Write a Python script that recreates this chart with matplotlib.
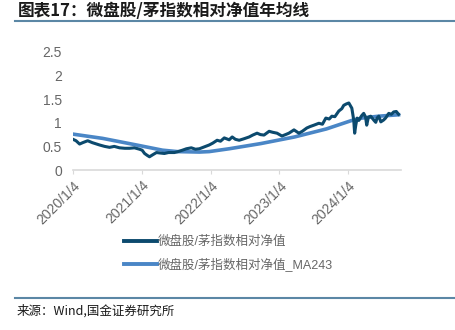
import pandas as pd
import matplotlib
matplotlib.use('Agg')
import matplotlib.pyplot as plt
from matplotlib.lines import Line2D

plt.rcParams['font.family'] = ['Liberation Sans', 'Noto Sans CJK SC', 'DejaVu Sans']

# 微盘股/茅指数相对净值
nav_dates = ['2020-01-04', '2020-01-20', '2020-02-08', '2020-02-25', '2020-03-22', '2020-04-15',
             '2020-05-24', '2020-06-20', '2020-07-16', '2020-08-10', '2020-09-07', '2020-10-05',
             '2020-10-30', '2020-11-25', '2020-12-22', '2021-01-05', '2021-01-18', '2021-02-01',
             '2021-02-13', '2021-03-01', '2021-03-22', '2021-04-10', '2021-05-03', '2021-05-25',
             '2021-06-25', '2021-07-15', '2021-08-07', '2021-08-28', '2021-09-23', '2021-10-15',
             '2021-11-05', '2021-12-01', '2021-12-27', '2022-01-15', '2022-02-07', '2022-02-25',
             '2022-03-17', '2022-04-12', '2022-04-28', '2022-05-15', '2022-06-04', '2022-06-28',
             '2022-07-27', '2022-08-15', '2022-09-07', '2022-09-25', '2022-10-14', '2022-11-10',
             '2022-11-28', '2022-12-22', '2023-01-17', '2023-02-05', '2023-02-23', '2023-03-22',
             '2023-04-17', '2023-05-05', '2023-05-29', '2023-06-15', '2023-07-06', '2023-08-01',
             '2023-08-20', '2023-09-07', '2023-09-25', '2023-10-09', '2023-10-25', '2023-11-15',
             '2023-12-01', '2023-12-11', '2023-12-25', '2024-01-07', '2024-01-23', '2024-02-02',
             '2024-02-07', '2024-02-13', '2024-02-20', '2024-02-29', '2024-03-15', '2024-03-26',
             '2024-04-05', '2024-04-11', '2024-04-20', '2024-05-02', '2024-05-20', '2024-05-29',
             '2024-06-05', '2024-06-14', '2024-06-25', '2024-07-10', '2024-07-20', '2024-08-06',
             '2024-08-20', '2024-09-01', '2024-09-15', '2024-09-27']
nav_values = [0.65, 0.62, 0.55, 0.58, 0.62, 0.58,
              0.53, 0.50, 0.48, 0.50, 0.47, 0.46,
              0.46, 0.47, 0.44, 0.42, 0.35, 0.31,
              0.28, 0.32, 0.37, 0.36, 0.35, 0.37,
              0.37, 0.39, 0.42, 0.45, 0.47, 0.44,
              0.45, 0.49, 0.53, 0.57, 0.63, 0.61,
              0.68, 0.64, 0.70, 0.65, 0.63, 0.66,
              0.70, 0.74, 0.78, 0.75, 0.74, 0.82,
              0.80, 0.78, 0.72, 0.75, 0.78, 0.85,
              0.78, 0.82, 0.89, 0.92, 0.95, 0.99,
              0.97, 1.10, 1.08, 1.14, 1.13, 1.25,
              1.30, 1.37, 1.40, 1.42, 1.31, 1.06,
              0.78, 0.95, 1.10, 1.05, 1.15, 1.20,
              1.12, 0.95, 1.12, 1.14, 1.05, 1.01,
              1.10, 1.14, 1.02, 1.06, 1.10, 1.20,
              1.18, 1.23, 1.24, 1.18]

# 243日均线
ma_dates = ['2020-01-04', '2020-06-09', '2020-12-06', '2021-04-23', '2021-07-10',
            '2021-11-05', '2021-12-27', '2022-04-12', '2022-09-27', '2023-03-25',
            '2023-09-10', '2024-01-23', '2024-03-16', '2024-06-14', '2024-09-27']
ma_values = [0.76, 0.67, 0.53, 0.42, 0.39, 0.38, 0.39, 0.45, 0.56, 0.70,
             0.87, 1.05, 1.10, 1.14, 1.17]

nav = pd.Series(nav_values, index=pd.to_datetime(nav_dates))
ma = pd.Series(ma_values, index=pd.to_datetime(ma_dates))

W, H = 455, 330
fig = plt.figure(figsize=(W / 100, H / 100), dpi=100)
ax = fig.add_axes([73 / W, 1 - 170 / H, 328 / W, 118 / H])

ax.plot(ma.index, ma.values, color='#4a86c6', lw=2.6, label='微盘股/茅指数相对净值_MA243', zorder=2)
ax.plot(nav.index, nav.values, color='#0c4a6e', lw=2.2, label='微盘股/茅指数相对净值', zorder=3)

ax.set_ylim(0, 2.5)
ax.set_yticks([0, 0.5, 1, 1.5, 2, 2.5])
ax.set_yticklabels(['0', '0.5', '1', '1.5', '2', '2.5'])
ax.set_xlim(pd.Timestamp('2020-01-04'), pd.Timestamp('2024-10-10'))
xt = pd.to_datetime(['2020-01-04', '2021-01-04', '2022-01-04', '2023-01-04', '2024-01-04'])
ax.set_xticks(xt)
ax.set_xticklabels(['2020/1/4', '2021/1/4', '2022/1/4', '2023/1/4', '2024/1/4'],
                   rotation=45, ha='right', rotation_mode='anchor')

for s in ['top', 'right', 'left']:
    ax.spines[s].set_visible(False)
ax.spines['bottom'].set_color('#d9d9d9')
ax.spines['bottom'].set_linewidth(1.2)
ax.tick_params(axis='y', length=0, pad=8, labelsize=10, labelcolor='#666666')
ax.tick_params(axis='x', length=3, color='#d9d9d9', pad=3, labelsize=10, labelcolor='#666666')

# 图例
h1 = Line2D([], [], color='#0c4a6e', lw=2.8)
h2 = Line2D([], [], color='#4a86c6', lw=2.8)
fig.legend([h1, h2], ['微盘股/茅指数相对净值', '微盘股/茅指数相对净值_MA243'],
           loc='upper left', bbox_to_anchor=(124 / W, 1 - 236 / H), frameon=False,
           handlelength=2.6, handletextpad=0.1, labelspacing=0.72,
           borderpad=0, borderaxespad=0, labelcolor='#666666',
           prop={'family': ['Liberation Sans', 'Noto Sans CJK SC'], 'size': 9})

# 标题与来源
fig.text(18 / W, 1 - 11 / H, '图表17：微盘股/茅指数相对净值年均线', fontsize=12, fontweight='bold',
         style='italic', va='center', ha='left', family=['Noto Sans CJK SC'], color='#1a1a1a')
fig.add_artist(Line2D([15 / W, 1], [1 - 21 / H, 1 - 21 / H], color='#5b87a5', lw=1.5))
fig.add_artist(Line2D([15 / W, 1], [1 - 298 / H, 1 - 298 / H], color='#5b87a5', lw=1.5))
fig.text(17 / W, 1 - 311 / H, '来源：Wind,国金证券研究所', fontsize=9,
         va='center', ha='left', family=['Noto Sans CJK SC'], color='#1a1a1a')

fig.savefig('out.png', dpi=100)
